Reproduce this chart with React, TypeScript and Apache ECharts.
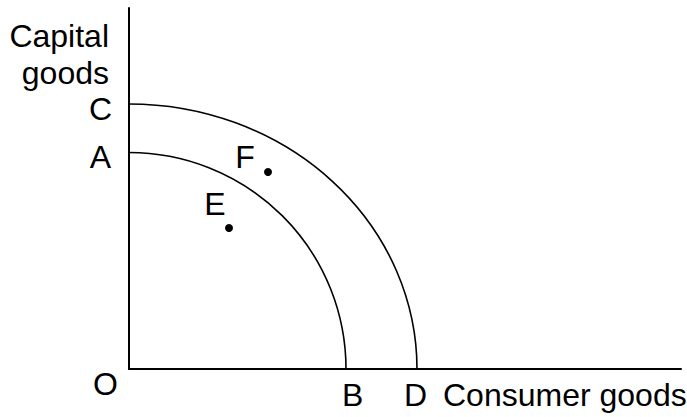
import React, { useEffect, useRef } from "react";
import * as echarts from "echarts";

// Axis extents (in chart units)
const xMax = 552;
const yMax = 361;

// Production possibility frontiers: intercepts on each axis
const frontierNames = ["AB", "CD"];
const frontierXIntercepts = [217, 288];
const frontierYIntercepts = [216.5, 265];

// Points inside / beyond the inner frontier
const pointNames = ["E", "F"];
const pointX = [100, 139];
const pointY = [141, 197];

const FONT = "'Liberation Sans', Arial, Helvetica, sans-serif";
const FS = 32;

export default function App() {
  const ref = useRef<HTMLDivElement>(null);
  useEffect(() => {
    document.body.style.margin = "0";
    const chart = echarts.init(ref.current!, null, { renderer: "svg" });
    const axisCommon = {
      type: "value" as const,
      min: 0,
      axisLine: { show: true, onZero: true, lineStyle: { color: "#000", width: 2 } },
      axisTick: { show: false },
      axisLabel: { show: false },
      splitLine: { show: false },
    };
    const txt = (text: string, x: number, y: number, align: string) => ({
      type: "text",
      x,
      y,
      style: {
        text,
        fill: "#000",
        font: `${FS}px ${FONT}`,
        textAlign: align,
        textVerticalAlign: "middle",
      },
    });
    chart.setOption({
      animation: false,
      grid: { left: 129, top: 8, width: 552, height: 361 },
      xAxis: { ...axisCommon, max: xMax },
      yAxis: { ...axisCommon, max: yMax },
      series: [
        {
          type: "custom",
          data: frontierNames.map((n, i) => ({
            name: n,
            value: [frontierXIntercepts[i], frontierYIntercepts[i]],
          })),
          renderItem: (params: any, api: any) => {
            const o = api.coord([0, 0]);
            const px = api.coord([api.value(0), 0]);
            const py = api.coord([0, api.value(1)]);
            const rx = px[0] - o[0];
            const ry = o[1] - py[1];
            return {
              type: "path",
              shape: {
                pathData: `M ${py[0]} ${py[1]} A ${rx} ${ry} 0 0 1 ${px[0]} ${px[1]}`,
              },
              style: { stroke: "#000", lineWidth: 1.6, fill: "none" },
            };
          },
          silent: true,
        },
        {
          type: "scatter",
          symbol: "circle",
          symbolSize: 8,
          itemStyle: { color: "#000", opacity: 1 },
          data: pointNames.map((n, i) => ({
            name: n,
            value: [pointX[i], pointY[i]],
            label: {
              show: true,
              position: "inside",
              offset: i === 0 ? [-14, -24] : [-23, -15],
              formatter: "{b}",
              color: "#000",
              fontSize: FS,
              fontFamily: FONT,
            },
          })),
        },
      ],
      graphic: [
        txt("Capital", 109, 36, "right"),
        txt("goods", 109, 73, "right"),
        txt("C", 112, 109, "right"),
        txt("A", 111, 157, "right"),
        txt("O", 118, 384, "right"),
        txt("B", 342, 395, "left"),
        txt("D", 404, 395, "left"),
        txt("Consumer goods", 443, 395, "left"),
      ],
    });
    return () => chart.dispose();
  }, []);
  return <div ref={ref} style={{ width: 687, height: 417 }} />;
}
